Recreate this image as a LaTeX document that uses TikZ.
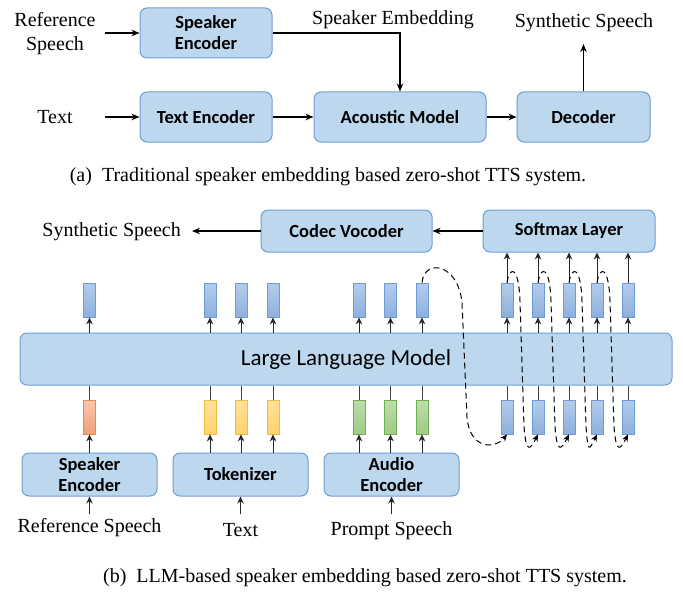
\documentclass[tikz,border=0pt]{standalone}
\usepackage{fontspec}
\setmainfont{Liberation Serif}
\newfontfamily\carl{Carlito}
\usetikzlibrary{arrows.meta,calc}
\definecolor{bfill}{HTML}{BDD7EE}
\definecolor{bdraw}{HTML}{6E9FD3}
\definecolor{tbt}{HTML}{B3CCEB}
\definecolor{tbb}{HTML}{8EB0DD}
\definecolor{tbd}{HTML}{6F9BD2}
\definecolor{tot}{HTML}{F9C7AE}
\definecolor{tob}{HTML}{F2A07A}
\definecolor{tod}{HTML}{E8875A}
\definecolor{tyt}{HTML}{FFE19A}
\definecolor{tyb}{HTML}{FFD36E}
\definecolor{tyd}{HTML}{F0BE3E}
\definecolor{tgt}{HTML}{BEDDAC}
\definecolor{tgb}{HTML}{9ECB85}
\definecolor{tgd}{HTML}{73AD52}
\begin{document}
\begin{tikzpicture}[x=1pt,y=-1pt,
  box/.style={draw=bdraw, fill=bfill, line width=1pt, rounded corners=7pt, align=center, inner sep=0pt, font=\carl\bfseries\fontsize{18.5}{21}\selectfont},
  lbl/.style={font=\fontsize{20}{24}\selectfont, align=center, inner sep=1pt},
  tokbase/.style={line width=0.8pt, minimum width=12pt, minimum height=34pt, inner sep=0pt},
  tokbl/.style={tokbase, draw=tbd, top color=tbt, bottom color=tbb},
  tokor/.style={tokbase, draw=tod, top color=tot, bottom color=tob},
  tokye/.style={tokbase, draw=tyd, top color=tyt, bottom color=tyb},
  tokgr/.style={tokbase, draw=tgd, top color=tgt, bottom color=tgb},
  barr/.style={line width=1.3pt, -{Stealth[length=8pt,width=6.5pt]}},
  sarr/.style={line width=0.9pt, draw=black!85, -{Stealth[length=7pt,width=6.5pt]}},
  sline/.style={line width=0.9pt, draw=black!75},
  dloop/.style={line width=1pt, dash pattern=on 6pt off 4pt, -{Stealth[length=7pt,width=6pt]}}
]
\useasboundingbox (0,0) rectangle (683,594);
% ---------- (a) ----------
\node[box, minimum width=132pt, minimum height=50pt] (se1) at (206,33) {Speaker\\Encoder};
\node[box, minimum width=132pt, minimum height=50pt] (te) at (206,117) {Text Encoder};
\node[box, minimum width=172pt, minimum height=50pt] (am) at (400,117) {Acoustic Model};
\node[box, minimum width=133pt, minimum height=50pt] (dec) at (583.5,117) {Decoder};
\node[lbl] (refa) at (55,34) {Reference\\Speech};
\node[lbl] (txta) at (55,117) {Text};
\node[lbl] (emb) at (393,20) {Speaker Embedding};
\node[lbl] (syna) at (584,23) {Synthetic Speech};
\coordinate (ra) at (105,33);
\coordinate (ta) at (105,117);
\coordinate (sa) at (583.5,44);
\draw[barr] (ra) -- (se1.west);
\draw[barr] (ta) -- (te.west);
\draw[barr] (te.east) -- (am.west);
\draw[barr] (am.east) -- (dec.west);
\draw[barr] (se1.east) -| (am.north);
\draw[barr] (dec.north) -- (sa);
\node[lbl] (capa) at (328,177) {(a)~~Traditional speaker embedding based zero-shot TTS system.};
% ---------- (b) ----------
\node[box, minimum width=171pt, minimum height=42pt] (cv) at (346.5,231) {Codec Vocoder};
\node[box, minimum width=172pt, minimum height=42pt] (sm) at (569,231) {Softmax Layer};
\node[lbl, anchor=east] (synb) at (182,232) {Synthetic Speech};
\coordinate (sb) at (192,231);
\draw[barr] (sm.west) -- (cv.east);
\draw[barr] (cv.west) -- (sb);
\node[box, minimum width=652pt, minimum height=52pt, font=\carl\fontsize{23}{26}\selectfont] (llm) at (346,359) {Large Language Model};
\node[box, minimum width=135pt, minimum height=43pt] (spk) at (89.5,474.5) {Speaker\\Encoder};
\node[box, minimum width=135pt, minimum height=43pt] (tok) at (240.5,474.5) {Tokenizer};
\node[box, minimum width=135pt, minimum height=43pt] (aud) at (391.5,474.5) {Audio\\Encoder};
\node[lbl] (refb) at (89.5,528) {Reference Speech};
\node[lbl] (txtb) at (240.5,530) {Text};
\node[lbl] (prb) at (391.5,531) {Prompt Speech};
\coordinate (r1) at (89.5,514);
\coordinate (r2) at (240.5,514);
\coordinate (r3) at (391.5,514);
\draw[sarr] (r1) -- (spk.south);
\draw[sarr] (r2) -- (tok.south);
\draw[sarr] (r3) -- (aud.south);
\foreach \x [count=\i] in {89.5,210,241,273,359,390.5,422,507,538,569,597,628}
  \node[tokbl] (u\i) at (\x,300) {};
\foreach \x/\s [count=\i] in {89.5/tokor,210/tokye,241/tokye,273/tokye,359/tokgr,390.5/tokgr,422/tokgr,507/tokbl,538/tokbl,569/tokbl,597/tokbl,628/tokbl}
  \node[\s] (l\i) at (\x,417) {};
\foreach \i in {1,...,12} {
  \draw[sarr] (llm.north -| u\i) -- (u\i.south);
  \draw[sline] (l\i.north) -- (l\i.north |- llm.south);
}
\foreach \i in {8,...,12}
  \draw[sarr] (u\i.north) -- (u\i.north |- sm.south);
\draw[sarr] (spk.north -| l1) -- (l1.south);
\foreach \i in {2,3,4} \draw[sarr] (tok.north -| l\i) -- (l\i.south);
\foreach \i in {5,6,7} \draw[sarr] (aud.north -| l\i) -- (l\i.south);
% dashed feedback loops
\draw[dloop] (u7.north) .. controls +(2,-24) and +(-4,-40) .. ++(40,20) -- ++(5,115) .. controls +(3,32) and +(-12,15) .. (l8.south);
\foreach \a/\b in {8/9,9/10,10/11,11/12}
  \draw[dloop] (u\a.north) .. controls +(3,-18) and +(-1,-35) .. ++(13,19) -- ++(4,125) .. controls +(2,27) and +(-8,16) .. (l\b.south);
\node[lbl] (capb) at (365,578) {(b)~~LLM-based speaker embedding based zero-shot TTS system.};
\end{tikzpicture}
\end{document}
